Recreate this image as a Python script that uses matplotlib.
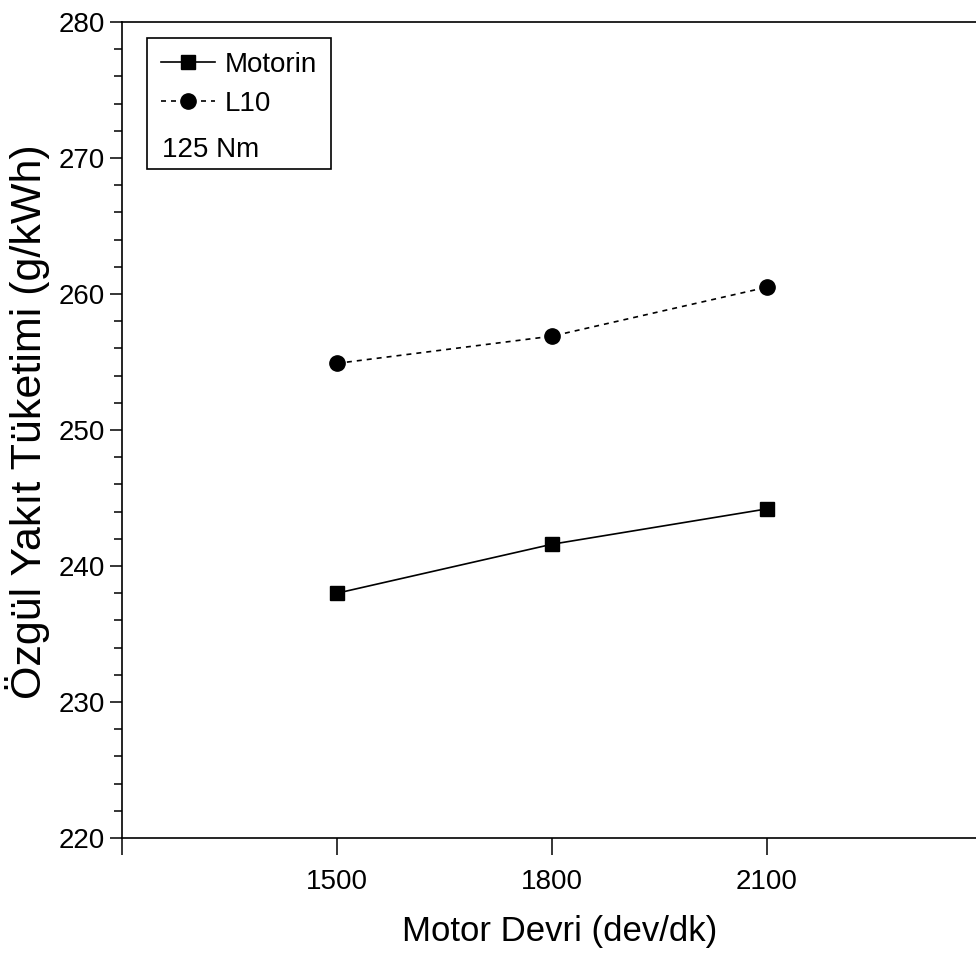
import matplotlib
matplotlib.use("Agg")
import matplotlib.pyplot as plt
from matplotlib.lines import Line2D
from matplotlib.ticker import MultipleLocator

# engine speed (rpm) and brake specific fuel consumption (g/kWh)
devir = [1500, 1800, 2100]
motorin = [238.0, 241.6, 244.2]
l10 = [254.9, 256.9, 260.5]
yuk_etiketi = "125 Nm"

plt.rcParams["font.family"] = ["Liberation Sans", "DejaVu Sans"]

fig = plt.figure(figsize=(9.76, 9.56), dpi=100)
ax = fig.add_axes([0.125, 0.1234, 0.881, 0.8536])

h1, = ax.plot(devir, motorin, color="black", linestyle="-", linewidth=1.2,
              marker="s", markersize=10, label="Motorin")
h2, = ax.plot(devir, l10, color="black", linestyle=(0, (3, 3)), linewidth=1.2,
              marker="o", markersize=11, label="L10")

ax.set_xlim(1200, 2400)
ax.set_ylim(220, 280)
ax.set_xticks([1200, 1500, 1800, 2100, 2400])
ax.set_xticklabels(["", "1500", "1800", "2100", ""])
ax.yaxis.set_major_locator(MultipleLocator(10))
ax.yaxis.set_minor_locator(MultipleLocator(2))

ax.tick_params(axis="x", which="major", direction="out", length=12, width=1.1,
               labelsize=20, pad=10)
ax.tick_params(axis="y", which="major", direction="out", length=9, width=1.1,
               labelsize=20, pad=3)
ax.tick_params(axis="y", which="minor", direction="out", length=6, width=1.1)
for s in ax.spines.values():
    s.set_linewidth(1.2)

ax.set_xlabel("Motor Devri (dev/dk)", fontsize=25)
ax.xaxis.set_label_coords(0.509, -0.094)
ax.set_ylabel("Özgül Yakıt Tüketimi (g/kWh)", fontsize=31)
ax.yaxis.set_label_coords(-0.084, 0.51)

blank = Line2D([], [], linestyle="none", marker="none")
leg = ax.legend([h1, h2, blank], ["Motorin", "L10", " "], loc="upper left",
                bbox_to_anchor=(0.029, 0.980), borderaxespad=0, fontsize=20,
                frameon=True, fancybox=False, edgecolor="black", framealpha=1,
                handlelength=1.95, handletextpad=0.35, borderpad=0.5,
                labelspacing=0.45)
leg.get_frame().set_linewidth(1.2)
ax.text(0.0465, 0.843, yuk_etiketi, transform=ax.transAxes, fontsize=20,
        va="center", ha="left", color="black", zorder=10)

fig.savefig("out.png", dpi=100)
